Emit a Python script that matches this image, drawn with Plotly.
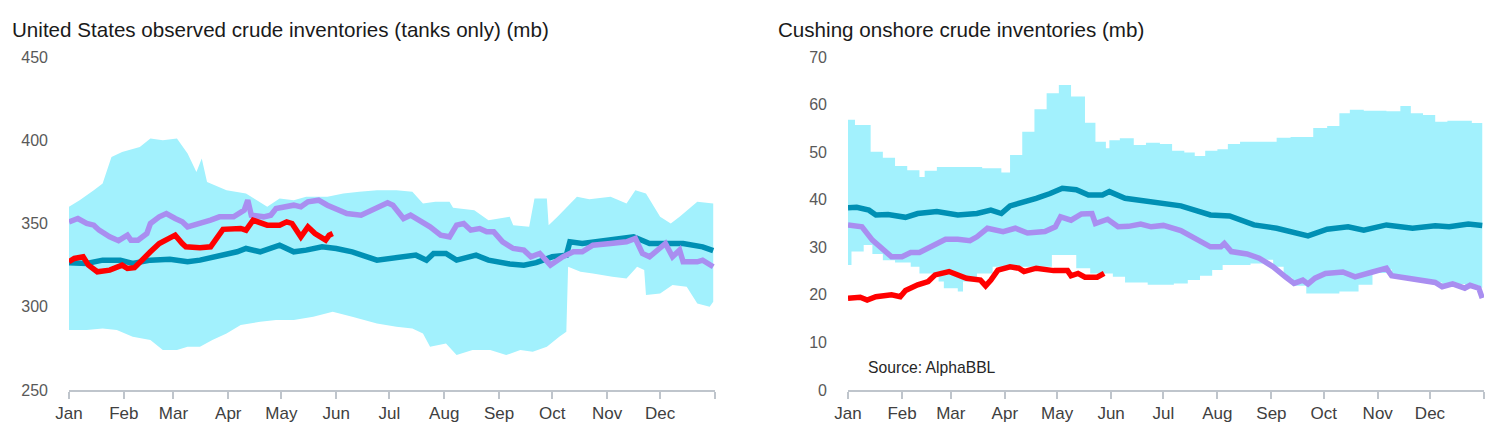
import pandas as pd
import plotly.graph_objects as go

# ---------------- DATA (day-of-year offsets from Jan 1) ----------------
MONTHS = ["Jan", "Feb", "Mar", "Apr", "May", "Jun", "Jul", "Aug", "Sep", "Oct", "Nov", "Dec"]

# United States observed crude inventories (tanks only) (mb)
us_upper_days = [0, 6, 14, 19, 24, 30, 40, 46, 53, 61, 67, 72, 75, 78, 89, 100, 112, 119, 127, 134,
                 146, 155, 164, 174, 185, 194, 200, 207, 215, 217, 229, 237, 249, 251, 260, 263, 270, 271, 276, 287,
                 294, 306, 315, 320, 326, 334, 340, 345, 355, 364]
us_upper_vals = [360, 364, 370, 374, 390, 393, 396, 401, 400, 401, 392, 381, 389, 375, 370, 368, 360, 365, 364, 366,
                 366, 368, 369, 370, 370, 369, 362, 363, 363, 359.5, 358, 352, 354, 349, 348, 365, 365, 349, 354, 366,
                 364.5, 366, 362, 370, 368, 354, 350, 354, 363, 362]
us_lower_days = [0, 10, 19, 27, 36, 46, 53, 61, 67, 74, 81, 89, 97, 108, 117, 127, 138, 149, 160, 174, 185, 194, 200, 204, 213, 219,
                 228, 238, 247, 255, 262, 270, 277, 281, 282, 289, 296, 307, 315, 321, 325, 326, 334, 341, 349, 355, 362, 364]
us_lower_vals = [286, 286, 287, 286, 282, 280, 274, 274, 276, 276, 280, 284, 289, 291, 292, 292, 294, 297, 294, 290, 288, 287, 284, 276, 278, 271,
                 274, 274, 271, 274, 273, 276, 282, 285, 324, 321, 320, 318, 317, 324, 322, 307, 308, 313, 312, 302, 300, 303]
us_avg_days = [0, 10, 19, 29, 36, 46, 57, 67, 74, 84, 95, 100, 108, 119, 127, 134, 143, 151, 160, 174,
               196, 202, 206, 213, 219, 230, 237, 249, 257, 264, 273, 281, 283, 290, 302, 319, 328, 347, 358, 364]
us_avg_vals = [326.5, 326, 328, 328, 326, 328, 328.5, 327, 328, 330, 333, 335, 333, 337, 333, 334, 336, 335, 333, 328,
               331, 328, 332, 332, 328, 331, 328, 325.7, 325, 326.5, 330, 331, 339, 338, 340, 342, 338, 338, 336, 333.7]
us_prev_days = [0, 5, 10, 14, 17, 23, 28, 33, 35, 39, 44, 46, 51, 55, 60, 64, 67, 74, 80, 85,
                93, 99, 101, 103, 110, 114, 117, 127, 131, 135, 141, 146, 151, 157, 165, 174, 180, 183, 189, 193,
                198, 204, 210, 215, 219, 223, 227, 232, 236, 240, 245, 251, 257, 261, 266, 272, 279, 285, 290, 296,
                306, 315, 320, 324, 328, 334, 337, 341, 345, 347, 355, 358, 364]
us_prev_vals = [351, 353, 350, 349, 346, 342, 339.7, 343, 340, 340, 344, 350, 354, 356, 353, 351, 348, 350, 352, 354,
                354, 358, 364, 355, 354, 355, 359, 361, 360, 363, 364, 361, 359, 356, 355, 360, 362.5, 361, 353, 355,
                352, 348, 343, 342, 349, 350, 346, 347, 345, 345, 339, 335, 334, 330, 332, 325, 330, 333, 333, 337,
                338, 339, 341, 332, 330, 335, 338, 330, 334, 327, 327, 328, 324]
us_cur_days = [0, 3, 8, 11, 16, 23, 30, 33, 37, 41, 46, 51, 57, 60, 64, 66, 74, 80, 84, 87,
               97, 100, 104, 112, 119, 123, 126, 131, 135, 139, 145, 147, 149]
us_cur_vals = [327, 329, 330, 325, 321, 322, 325, 323, 323.5, 328, 333, 338, 341, 343, 338, 336, 335.5, 336, 342, 346.5,
               347, 346, 352, 349, 349, 351, 350, 342, 348, 344, 340, 343, 344]

# Cushing onshore crude inventories (mb)
cu_upper_days = [0, 4, 13, 20, 27, 34, 41, 44, 51, 64, 77, 88, 93, 100, 107, 114, 121, 128, 136, 142, 148, 150, 156, 164, 171, 179,
                 186, 193, 199, 205, 212, 218, 225, 233, 240, 246, 254, 260, 267, 275, 282, 288, 296, 309, 317, 323, 330, 337,
                 344, 351, 358, 364]
cu_upper_vals = [56.8, 55.7, 50.1, 48.8, 47.1, 46.2, 44.8, 46.1, 46.9, 46.9, 46.6, 45.7, 49.4, 54.3, 59.0, 62.4, 64.1, 61.7, 56.2, 52.2,
                 50.8, 52.5, 52.9, 51.5, 52.0, 51.7, 50.3, 49.9, 49.2, 50.3, 50.6, 51.7, 52.2, 52.2, 52.2, 53.0, 53.2, 53.2, 55.1,
                 55.5, 58.2, 58.9, 58.7, 58.6, 59.7, 58.2, 57.8, 56.4, 56.6, 56.6, 56.1, 56.1]
cu_lower_days = [0, 2, 9, 14, 20, 27, 36, 41, 52, 55, 63, 66, 74, 83, 97, 117, 131, 139, 152, 159, 172, 187, 195, 202, 209, 215,
                 231, 238, 244, 250, 255, 263, 282, 293, 301, 309, 312, 320, 329, 337, 341, 347, 354, 357, 362, 364]
cu_lower_vals = [26.3, 29.1, 30.5, 28.6, 27.3, 26.8, 25.9, 24.5, 22.8, 21.4, 20.7, 22.8, 24.5, 25.9, 25.9, 28.4, 25.6, 24.5, 23.8, 22.6,
                 22.1, 22.4, 23.1, 24.0, 25.2, 26.3, 26.6, 27.4, 25.9, 23.6, 21.9, 20.3, 20.7, 22.1, 24.6, 25.4, 24.0, 23.5, 23.1,
                 22.6, 21.9, 22.3, 21.6, 22.0, 21.5, 21.5]
cu_avg_days = [0, 5, 12, 16, 23, 33, 40, 51, 63, 74, 82, 88, 93, 101, 108, 116, 123, 131, 138, 146, 150, 159, 168, 181, 191, 208,
               219, 233, 246, 264, 275, 287, 296, 309, 324, 337, 345, 356, 364]
cu_avg_vals = [38.3, 38.4, 37.8, 36.8, 36.9, 36.3, 37.1, 37.5, 36.8, 37.1, 37.8, 37.1, 38.7, 39.4, 40.3, 41.3, 42.4, 42.1, 41.0, 41.0,
               41.7, 40.3, 39.8, 39.2, 38.7, 36.8, 36.6, 34.7, 34.0, 32.4, 33.8, 34.3, 33.6, 34.7, 34.0, 34.5, 34.3, 34.9, 34.6]
cu_prev_days = [0, 8, 14, 19, 25, 31, 36, 41, 49, 56, 63, 70, 74, 80, 89, 96, 103, 113, 119, 122, 128, 134, 140, 142, 149, 155,
                161, 168, 174, 181, 191, 199, 208, 214, 216, 220, 229, 236, 244, 251, 256, 261, 264, 268, 274, 284, 291, 301,
                309, 312, 320, 329, 337, 341, 347, 354, 357, 362, 364]
cu_prev_vals = [34.7, 34.3, 31.5, 29.8, 28.0, 28.0, 28.9, 28.9, 30.5, 31.7, 31.7, 31.4, 32.2, 34.0, 33.3, 34.0, 33.0, 33.3, 34.3, 36.4,
                35.7, 37.0, 37.1, 35.0, 35.9, 34.3, 34.4, 34.9, 34.3, 34.6, 33.5, 31.9, 30.1, 30.1, 30.8, 29.1, 28.6, 27.7, 25.9,
                23.8, 22.4, 23.1, 22.3, 23.5, 24.5, 24.8, 23.8, 24.8, 25.6, 24.0, 23.5, 23.1, 22.6, 21.7, 22.3, 21.4, 22.0, 21.4, 19.3]
cu_cur_days = [0, 7, 11, 16, 25, 30, 33, 40, 46, 50, 58, 63, 68, 76, 79, 82, 86, 93, 98, 101, 108, 118, 126, 128, 132, 136, 143, 147]
cu_cur_vals = [19.3, 19.5, 18.9, 19.6, 20.0, 19.6, 20.9, 22.1, 22.8, 24.2, 24.9, 24.2, 23.5, 23.1, 21.9, 23.1, 25.2, 25.9, 25.6, 24.9,
               25.6, 25.1, 25.1, 24.0, 24.5, 23.7, 23.7, 24.5]

TITLES = ["United States observed crude inventories (tanks only) (mb)", "Cushing onshore crude inventories (mb)"]
SOURCE = "Source: AlphaBBL"

# ---------------- STYLE ----------------
BAND = "#A2F1FD"
TEAL = "#0090B4"
PURPLE = "#A98EF0"
RED = "#FF0000"
AXIS_GREY = "#BFC5CC"
FONT = "Liberation Sans"
W, H = 1500, 447
OFF = 8  # page body margin of the html page

base = pd.Timestamp("2023-01-01")


def to_dates(days):
    return base + pd.to_timedelta(days, unit="D")


def px_x(p):
    return (p - OFF) / W


def px_y(p):
    return 1 - (p - OFF) / H


fig = go.Figure()


def add_panel(xa, ya, upper_d, upper_v, lower_d, lower_v, avg_d, avg_v, prev_d, prev_v, cur_d, cur_v, shape):
    fig.add_trace(go.Scatter(x=to_dates(lower_d), y=lower_v, mode="lines", line=dict(width=0, shape=shape),
                             xaxis=xa, yaxis=ya, hoverinfo="skip", showlegend=False))
    fig.add_trace(go.Scatter(x=to_dates(upper_d), y=upper_v, mode="lines", line=dict(width=0, shape=shape),
                             fill="tonexty", fillcolor=BAND, xaxis=xa, yaxis=ya, showlegend=False))
    for d, v, c in [(avg_d, avg_v, TEAL), (prev_d, prev_v, PURPLE), (cur_d, cur_v, RED)]:
        fig.add_trace(go.Scatter(x=to_dates(d), y=v, mode="lines", line=dict(color=c, width=5.5),
                                 xaxis=xa, yaxis=ya, showlegend=False))


add_panel("x", "y", us_upper_days, us_upper_vals, us_lower_days, us_lower_vals, us_avg_days, us_avg_vals,
          us_prev_days, us_prev_vals, us_cur_days, us_cur_vals, "linear")
add_panel("x2", "y2", cu_upper_days, cu_upper_vals, cu_lower_days, cu_lower_vals, cu_avg_days, cu_avg_vals,
          cu_prev_days, cu_prev_vals, cu_cur_days, cu_cur_vals, "hv")

tickvals = [pd.Timestamp(2023, m, 1) for m in range(1, 13)] + [pd.Timestamp(2024, 1, 1)]
ticktext = MONTHS + [""]

xcommon = dict(type="date", range=[pd.Timestamp(2023, 1, 1), pd.Timestamp(2024, 1, 1)], tickmode="array",
               tickvals=tickvals, ticktext=ticktext, showgrid=False, zeroline=False, showline=True, automargin=False,
               linecolor=AXIS_GREY, linewidth=2, ticks="outside", ticklen=7, tickwidth=1.5, tickcolor=AXIS_GREY,
               tickfont=dict(family=FONT, size=17, color="#404040"))
ycommon = dict(showgrid=False, zeroline=False, showline=False, ticks="", ticklabelstandoff=20, automargin=False,
               tickfont=dict(family=FONT, size=16, color="#595959"))

ydom = [px_y(390), px_y(57)]
fig.update_layout(
    width=W, height=H, margin=dict(l=0, r=0, t=0, b=0, pad=0, autoexpand=False),
    paper_bgcolor="white", plot_bgcolor="white", showlegend=False,
    xaxis=dict(domain=[px_x(69), px_x(715)], anchor="y", **xcommon),
    yaxis=dict(domain=ydom, anchor="x", range=[250, 450], tickvals=[250, 300, 350, 400, 450], **ycommon),
    xaxis2=dict(domain=[px_x(848), px_x(1484)], anchor="y2", **xcommon),
    yaxis2=dict(domain=ydom, anchor="x2", range=[0, 70], tickvals=[0, 10, 20, 30, 40, 50, 60, 70], **ycommon),
)

fig.add_annotation(text=TITLES[0], xref="paper", yref="paper", x=px_x(10), y=px_y(31 - 1), xanchor="left",
                   yanchor="middle", showarrow=False, font=dict(family=FONT, size=20.6, color="#1a1a1a"))
fig.add_annotation(text=TITLES[1], xref="paper", yref="paper", x=px_x(776), y=px_y(31 - 1), xanchor="left",
                   yanchor="middle", showarrow=False, font=dict(family=FONT, size=20.6, color="#1a1a1a"))
fig.add_annotation(text=SOURCE, xref="paper", yref="paper", x=px_x(866), y=px_y(367), xanchor="left",
                   yanchor="middle", showarrow=False, font=dict(family=FONT, size=15.7, color="#262626"))

fig.write_html("out.html")
